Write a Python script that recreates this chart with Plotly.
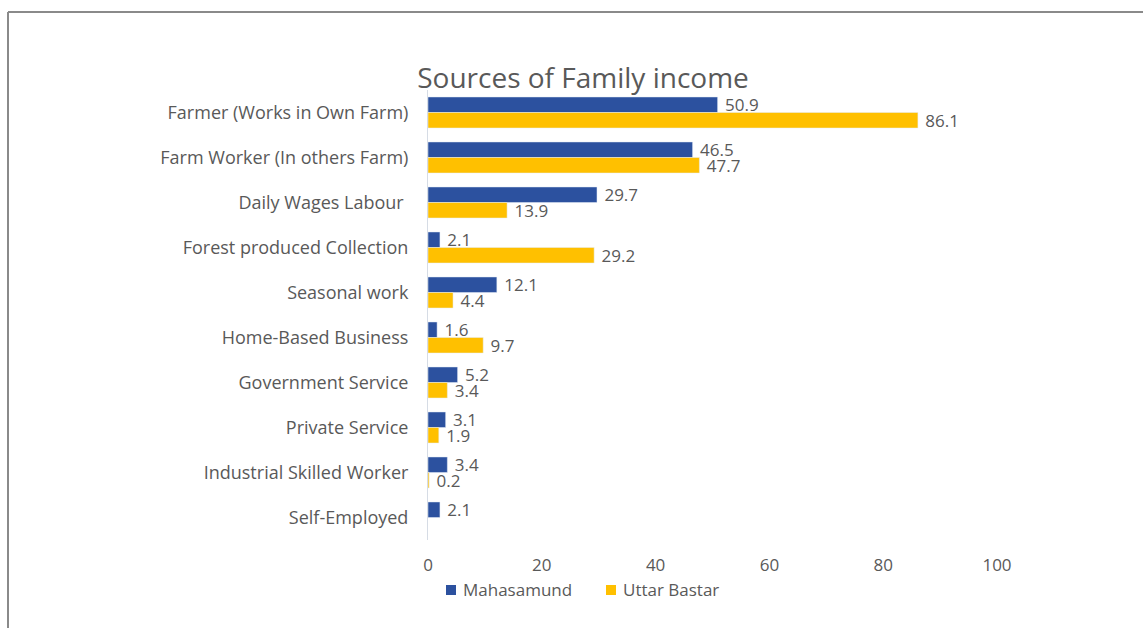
import plotly.graph_objects as go

categories = [
    "Farmer (Works in Own Farm)",
    "Farm Worker (In others Farm)",
    "Daily Wages Labour ",
    "Forest produced Collection",
    "Seasonal work",
    "Home-Based Business",
    "Government Service",
    "Private Service",
    "Industrial Skilled Worker",
    "Self-Employed",
]
mahasamund = [50.9, 46.5, 29.7, 2.1, 12.1, 1.6, 5.2, 3.1, 3.4, 2.1]
uttar_bastar = [86.1, 47.7, 13.9, 29.2, 4.4, 9.7, 3.4, 1.9, 0.2, None]
x_ticks = [0, 20, 40, 60, 80, 100]

FONT = "Open Sans"
GRAY = "#595959"
BLUE = "#2C519F"
YELLOW = "#FFC000"


def labels(vals):
    return ["" if v is None else "\u00a0" + f"{v:.1f}" for v in vals]


fig = go.Figure()
for name, vals, color in [("Mahasamund", mahasamund, BLUE),
                          ("Uttar Bastar", uttar_bastar, YELLOW)]:
    fig.add_trace(go.Bar(
        y=categories, x=vals, orientation="h", name=name,
        marker_color=color, text=labels(vals), textposition="outside",
        constraintext="none", cliponaxis=False,
        textfont=dict(family=FONT, size=17, color=GRAY),
    ))

# Frame around the panel (extends off the right and bottom edges)
L, R, T, B = 428, 146, 90, 88
W, H = 1143, 628
pw, ph = W - L - R, H - T - B


def px_x(v):
    return (v - L) / pw


def px_y(v):
    return (H - B - v) / ph


fig.add_shape(type="line", xref="paper", yref="paper", x0=px_x(8), x1=1.5,
              y0=px_y(12), y1=px_y(12), line=dict(color="#8a8a8a", width=2))
fig.add_shape(type="line", xref="paper", yref="paper", x0=px_x(8), x1=px_x(8),
              y0=px_y(12), y1=-0.5, line=dict(color="#8a8a8a", width=2))

# Legend: a small coloured square followed by the series name
for x_px, name, color in [(446, "Mahasamund", BLUE), (606, "Uttar Bastar", YELLOW)]:
    fig.add_shape(type="rect", xref="paper", yref="paper",
                  x0=px_x(x_px), x1=px_x(x_px + 10), y0=px_y(595), y1=px_y(585),
                  fillcolor=color, line=dict(width=0))
    fig.add_annotation(xref="paper", yref="paper", x=px_x(x_px + 15), y=px_y(589),
                       xanchor="left", yanchor="middle", showarrow=False, text=name,
                       font=dict(family=FONT, size=17, color=GRAY))

fig.update_layout(
    width=W, height=H,
    margin=dict(l=L, r=R, t=T, b=B, autoexpand=False),
    paper_bgcolor="white", plot_bgcolor="white",
    barmode="group", bargap=0.31, bargroupgap=0,
    font=dict(family=FONT, color=GRAY, size=16),
    title=dict(text="Sources of Family income", x=px_x(583), xref="paper",
               xanchor="center", y=1 - 78 / H, yanchor="middle",
               font=dict(family=FONT, size=28, color=GRAY)),
    xaxis=dict(range=[0, 100], tickvals=x_ticks, showgrid=False, zeroline=False,
               showline=False, ticks="outside", ticklen=10,
               tickcolor="rgba(0,0,0,0)", tickfont=dict(size=17, color=GRAY)),
    yaxis=dict(autorange="reversed", showgrid=False, showline=True,
               linecolor="#d6dce5", linewidth=1, ticks="outside", ticklen=15,
               tickcolor="rgba(0,0,0,0)", tickfont=dict(size=18, color=GRAY)),
    showlegend=False,
)

fig.write_html("out.html")
